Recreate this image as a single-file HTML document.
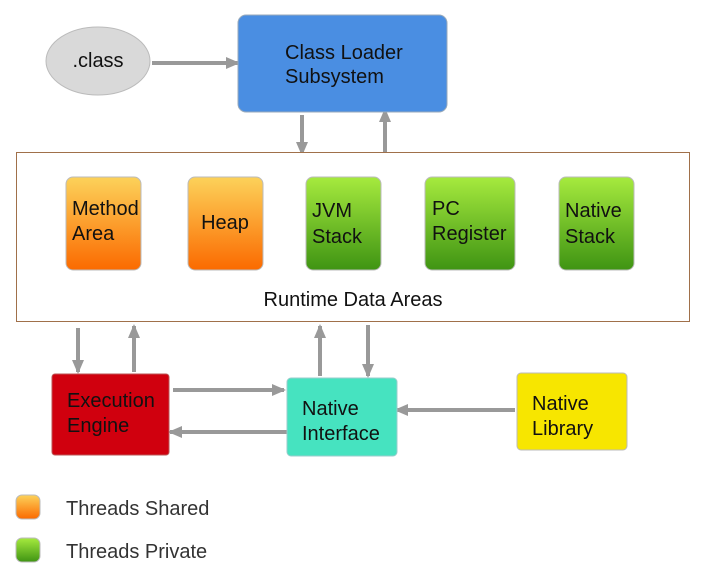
<!DOCTYPE html>
<html><head><style>
body{margin:0;background:#fff;}
svg{display:block;font-family:"Liberation Sans",Arial,sans-serif;}
</style></head><body>
<svg width="702" height="566" viewBox="0 0 702 566">
<defs>
<linearGradient id="og" x1="0" y1="0" x2="0" y2="1"><stop offset="0" stop-color="#fcd25a"/><stop offset="1" stop-color="#fb6a00"/></linearGradient>
<linearGradient id="gg" x1="0" y1="0" x2="0" y2="1"><stop offset="0" stop-color="#a6ea3e"/><stop offset="1" stop-color="#3f9413"/></linearGradient>
<marker id="ah" markerWidth="14" markerHeight="14" refX="12" refY="6" orient="auto" markerUnits="userSpaceOnUse"><path d="M0,0 L14,6 L0,12 z" fill="#999"/></marker>
</defs>
<g stroke="#999" stroke-width="4" fill="none" marker-end="url(#ah)">
<line x1="152" y1="63" x2="238" y2="63"/>
<line x1="302" y1="115" x2="302" y2="154"/>
<line x1="385" y1="152" x2="385" y2="110"/>
<line x1="78" y1="328" x2="78" y2="372"/>
<line x1="134" y1="372" x2="134" y2="326"/>
<line x1="320" y1="376" x2="320" y2="326"/>
<line x1="368" y1="325" x2="368" y2="376"/>
<line x1="173" y1="390" x2="284" y2="390"/>
<line x1="287" y1="432" x2="170" y2="432"/>
<line x1="515" y1="410" x2="396" y2="410"/>
</g>
<ellipse cx="98" cy="61" rx="52" ry="34" fill="#d9d9d9" stroke="#bbb"/>
<text x="98" y="67" font-size="20" text-anchor="middle" fill="#111">.class</text>
<rect x="238" y="15" width="209" height="97" rx="8" fill="#4a8ee2" stroke="#9ab"/>
<text x="285" y="59" font-size="20" fill="#111">Class Loader</text>
<text x="285" y="83" font-size="20" fill="#111">Subsystem</text>
<rect x="16.5" y="152.5" width="673" height="169" fill="#fff" stroke="#a0704a"/>
<g stroke="#bbb">
<rect x="66" y="177" width="75" height="93" rx="7" fill="url(#og)"/>
<rect x="188" y="177" width="75" height="93" rx="7" fill="url(#og)"/>
<rect x="306" y="177" width="75" height="93" rx="7" fill="url(#gg)"/>
<rect x="425" y="177" width="90" height="93" rx="7" fill="url(#gg)"/>
<rect x="559" y="177" width="75" height="93" rx="7" fill="url(#gg)"/>
</g>
<g font-size="20" fill="#111">
<text x="72" y="215">Method</text><text x="72" y="240">Area</text>
<text x="225" y="229" text-anchor="middle">Heap</text>
<text x="312" y="217">JVM</text><text x="312" y="243">Stack</text>
<text x="432" y="215">PC</text><text x="432" y="240">Register</text>
<text x="565" y="217">Native</text><text x="565" y="243">Stack</text>
<text x="353" y="306" text-anchor="middle">Runtime Data Areas</text>
</g>
<rect x="52" y="374" width="117" height="81" rx="3" fill="#d0000e" stroke="#b55"/>
<rect x="287" y="378" width="110" height="78" rx="4" fill="#46e3c0" stroke="#9cc"/>
<rect x="517" y="373" width="110" height="77" rx="4" fill="#f7e600" stroke="#bbb"/>
<g font-size="20" fill="#111">
<text x="67" y="407">Execution</text><text x="67" y="432">Engine</text>
<text x="302" y="415">Native</text><text x="302" y="440">Interface</text>
<text x="532" y="410">Native</text><text x="532" y="435">Library</text>
</g>
<rect x="16" y="495" width="24" height="24" rx="6" fill="url(#og)" stroke="#bbb"/>
<rect x="16" y="538" width="24" height="24" rx="6" fill="url(#gg)" stroke="#bbb"/>
<text x="66" y="515" font-size="20" fill="#333">Threads Shared</text>
<text x="66" y="558" font-size="20" fill="#333">Threads Private</text>
</svg>
</body></html>
